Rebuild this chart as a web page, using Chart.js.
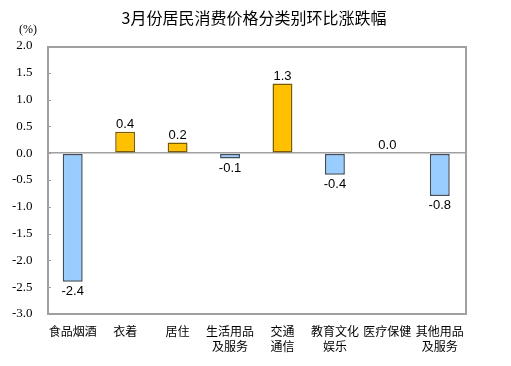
<!DOCTYPE html>
<html>
<head>
<meta charset="utf-8">
<script src="https://cdn.jsdelivr.net/npm/chart.js@4"></script>
<style>
  html, body { margin: 0; padding: 0; background: #fff; }
  #wrap { width: 511px; height: 366px; }
</style>
</head>
<body>
<div id="wrap"><canvas id="c" width="511" height="366"></canvas></div>
<script>
const categories = [['食品烟酒'], ['衣着'], ['居住'], ['生活用品', '及服务'], ['交通', '通信'], ['教育文化', '娱乐'], ['医疗保健'], ['其他用品', '及服务']];
const changes = [-2.4, 0.4, 0.2, -0.1, 1.3, -0.4, 0.0, -0.8];
const yMin = -3.0;
const yMax = 2.0;
const yStep = 0.5;

const UP = '#FFC000';
const DOWN = '#99CCFF';
const FRAME = '#a0a0a0';
const SERIF = '"Liberation Serif", "Times New Roman", "DejaVu Serif", serif';

// frame, inner tick marks, title, (%) label and value labels
const decor = {
    id: 'decor',
    beforeDatasetsDraw(chart) {
        const { ctx, chartArea: a, scales } = chart;
        const l = Math.round(a.left);
        const r = Math.round(a.right);
        const t = Math.round(a.top);
        const b = Math.round(a.bottom);
        ctx.save();
        ctx.fillStyle = FRAME;
        ctx.fillRect(l, t, r - l + 1, 2);
        ctx.fillRect(l, b - 1, r - l + 1, 2);
        ctx.fillRect(l, t, 2, b - t + 1);
        ctx.fillRect(r - 1, t, 2, b - t + 1);
        scales.y.ticks.forEach((tk) => {
            const y = Math.round(scales.y.getPixelForValue(tk.value));
            ctx.fillRect(l, y, 4, 1);
        });
        ctx.restore();
    },
    afterDraw(chart) {
        const { ctx } = chart;
        ctx.save();
        ctx.fillStyle = '#000';
        ctx.textAlign = 'center';
        ctx.textBaseline = 'middle';
        ctx.font = '16px "Noto Sans CJK SC", sans-serif';
        ctx.fillText('3月份居民消费价格分类别环比涨跌幅', 254, 18);

        ctx.font = '12px ' + SERIF;
        ctx.fillText('(%)', 28, 30);

        ctx.font = '13px "Liberation Sans", Arial, sans-serif';
        chart.getDatasetMeta(0).data.forEach((bar, i) => {
            const v = changes[i];
            if (v >= 0) {
                ctx.textBaseline = 'bottom';
                ctx.fillText(v.toFixed(1), bar.x, bar.y - 1);
            } else {
                ctx.textBaseline = 'top';
                ctx.fillText(v.toFixed(1), bar.x, bar.y + 3);
            }
        });
        ctx.restore();
    },
};

new Chart(document.getElementById('c'), {
    type: 'bar',
    data: {
        labels: categories,
        datasets: [{
            data: changes,
            backgroundColor: changes.map((v) => (v >= 0 ? UP : DOWN)),
            borderColor: changes.map((v) => (v >= 0 ? '#7a5c00' : '#3f4f60')),
            borderWidth: 1.5,
            borderSkipped: false,
            categoryPercentage: 1,
            barPercentage: 0.38,
        }],
    },
    options: {
        responsive: false,
        animation: false,
        layout: { padding: { left: 0, right: 45, top: 46, bottom: 0 } },
        plugins: {
            legend: { display: false },
            tooltip: { enabled: false },
            title: { display: false },
        },
        scales: {
            x: {
                grid: { display: false, drawTicks: false },
                border: { display: false },
                afterFit: (scale) => { scale.height = 52; },
                ticks: {
                    color: '#000',
                    padding: 10,
                    maxRotation: 0,
                    autoSkip: false,
                    font: { family: '"Noto Sans CJK SC", sans-serif', size: 12, lineHeight: 1.25 },
                },
            },
            y: {
                min: yMin,
                max: yMax,
                afterFit: (scale) => { scale.width = 46.5; },
                grid: {
                    drawTicks: false,
                    lineWidth: 1.5,
                    color: (c) => (c.tick && c.tick.value === 0 ? FRAME : 'rgba(0,0,0,0)'),
                },
                border: { display: false },
                ticks: {
                    stepSize: yStep,
                    color: '#000',
                    padding: 14,
                    font: { family: SERIF, size: 13 },
                    callback: (v) => Number(v).toFixed(1),
                },
            },
        },
    },
    plugins: [decor],
});
</script>
</body>
</html>
